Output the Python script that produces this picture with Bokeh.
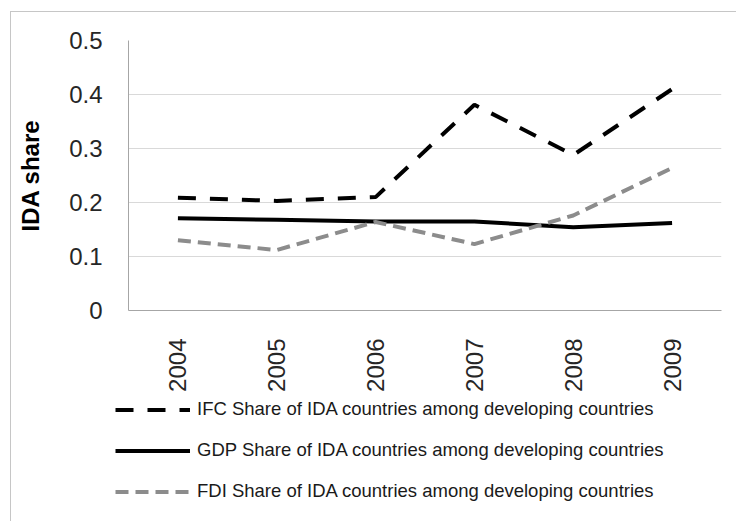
import math
from bokeh.plotting import figure
from bokeh.layouts import column
from bokeh.models import FactorRange, Range1d, FixedTicker, Legend, LegendItem
from bokeh.embed import file_html
from bokeh.resources import INLINE

years = ["2004", "2005", "2006", "2007", "2008", "2009"]
ifc_share = [0.209, 0.203, 0.210, 0.381, 0.288, 0.410]
gdp_share = [0.171, 0.168, 0.165, 0.165, 0.154, 0.162]
fdi_share = [0.130, 0.112, 0.164, 0.123, 0.176, 0.264]
y_ticks = [0, 0.1, 0.2, 0.3, 0.4, 0.5]
y_tick_labels = ["0", "0.1", "0.2", "0.3", "0.4", "0.5"]
series_names = [
    "IFC Share of IDA countries among developing countries",
    "GDP Share of IDA countries among developing countries",
    "FDI Share of IDA countries among developing countries",
]

IFC_STYLE = dict(line_color="black", line_width=4, line_dash="18 14")
GDP_STYLE = dict(line_color="black", line_width=4)
FDI_STYLE = dict(line_color="#8c8c8c", line_width=4, line_dash="13 7")

# ---- main chart ----
p = figure(
    width=725, height=385,
    x_range=FactorRange(*years, range_padding=0),
    y_range=Range1d(0, 0.5),
    output_backend="svg", toolbar_location=None,
    min_border_left=117, min_border_right=15, min_border_top=28, min_border_bottom=87,
)
p.outline_line_color = None
p.background_fill_color = "white"
p.border_fill_color = "white"

p.line(years, ifc_share, **IFC_STYLE)
p.line(years, gdp_share, **GDP_STYLE)
p.line(years, fdi_share, **FDI_STYLE)

p.xgrid.grid_line_color = None
p.ygrid.grid_line_color = "#d9d9d9"
p.ygrid.grid_line_width = 1

tick_font = "Liberation Sans"
p.yaxis.ticker = FixedTicker(ticks=y_ticks)
p.yaxis.major_label_overrides = dict(zip(y_ticks, y_tick_labels))
p.yaxis.axis_label = "IDA share"
p.yaxis.axis_label_text_font = tick_font
p.yaxis.axis_label_text_font_style = "bold"
p.yaxis.axis_label_text_font_size = "24px"
p.yaxis.axis_label_text_color = "black"
p.yaxis.axis_label_standoff = 22
for ax in (p.xaxis[0], p.yaxis[0]):
    ax.axis_line_color = "#a6a6a6"
    ax.axis_line_width = 1
    ax.major_tick_line_color = None
    ax.minor_tick_line_color = None
    ax.major_tick_out = 0
    ax.major_tick_in = 0
    ax.major_label_text_font = tick_font
    ax.major_label_text_font_size = "24px"
    ax.major_label_text_color = "#262626"
p.yaxis.major_label_standoff = 26
p.xaxis.major_label_standoff = 28
p.xaxis.major_label_orientation = math.pi / 2

# ---- legend strip below the chart (its lines lie outside its view; only the keys show) ----
lg = figure(
    width=725, height=124,
    x_range=FactorRange(*years, range_padding=0),
    y_range=Range1d(10, 11),
    x_axis_type=None, y_axis_type=None,
    output_backend="svg", toolbar_location=None,
    min_border_left=0, min_border_right=0, min_border_top=0, min_border_bottom=0,
)
lg.outline_line_color = None
lg.grid.grid_line_color = None
lg.background_fill_color = "white"
lg.border_fill_color = "white"
k_ifc = lg.line(years, ifc_share, **IFC_STYLE)
k_gdp = lg.line(years, gdp_share, **GDP_STYLE)
k_fdi = lg.line(years, fdi_share, **FDI_STYLE)

for fig in (p, lg):
    if "frame_align" in fig.properties():
        fig.frame_align = False

legend = Legend(
    items=[
        LegendItem(label=series_names[0], renderers=[k_ifc]),
        LegendItem(label=series_names[1], renderers=[k_gdp]),
        LegendItem(label=series_names[2], renderers=[k_fdi]),
    ],
    location=(104, 19),
    orientation="vertical",
    glyph_width=75, glyph_height=21, label_height=21,
    label_standoff=7, spacing=19, padding=0, margin=0,
    border_line_color=None, background_fill_alpha=0,
    label_text_font=tick_font,
    label_text_font_size="18.5px",
    label_text_color="#1a1a1a",
)
lg.add_layout(legend, "center")

layout = column(
    p, lg,
    styles={"border-left": "1px solid #c6c6c6", "border-top": "1px solid #c6c6c6"},
    margin=(11, 0, 0, 10),
)

open("out.html", "w").write(file_html(layout, INLINE))
